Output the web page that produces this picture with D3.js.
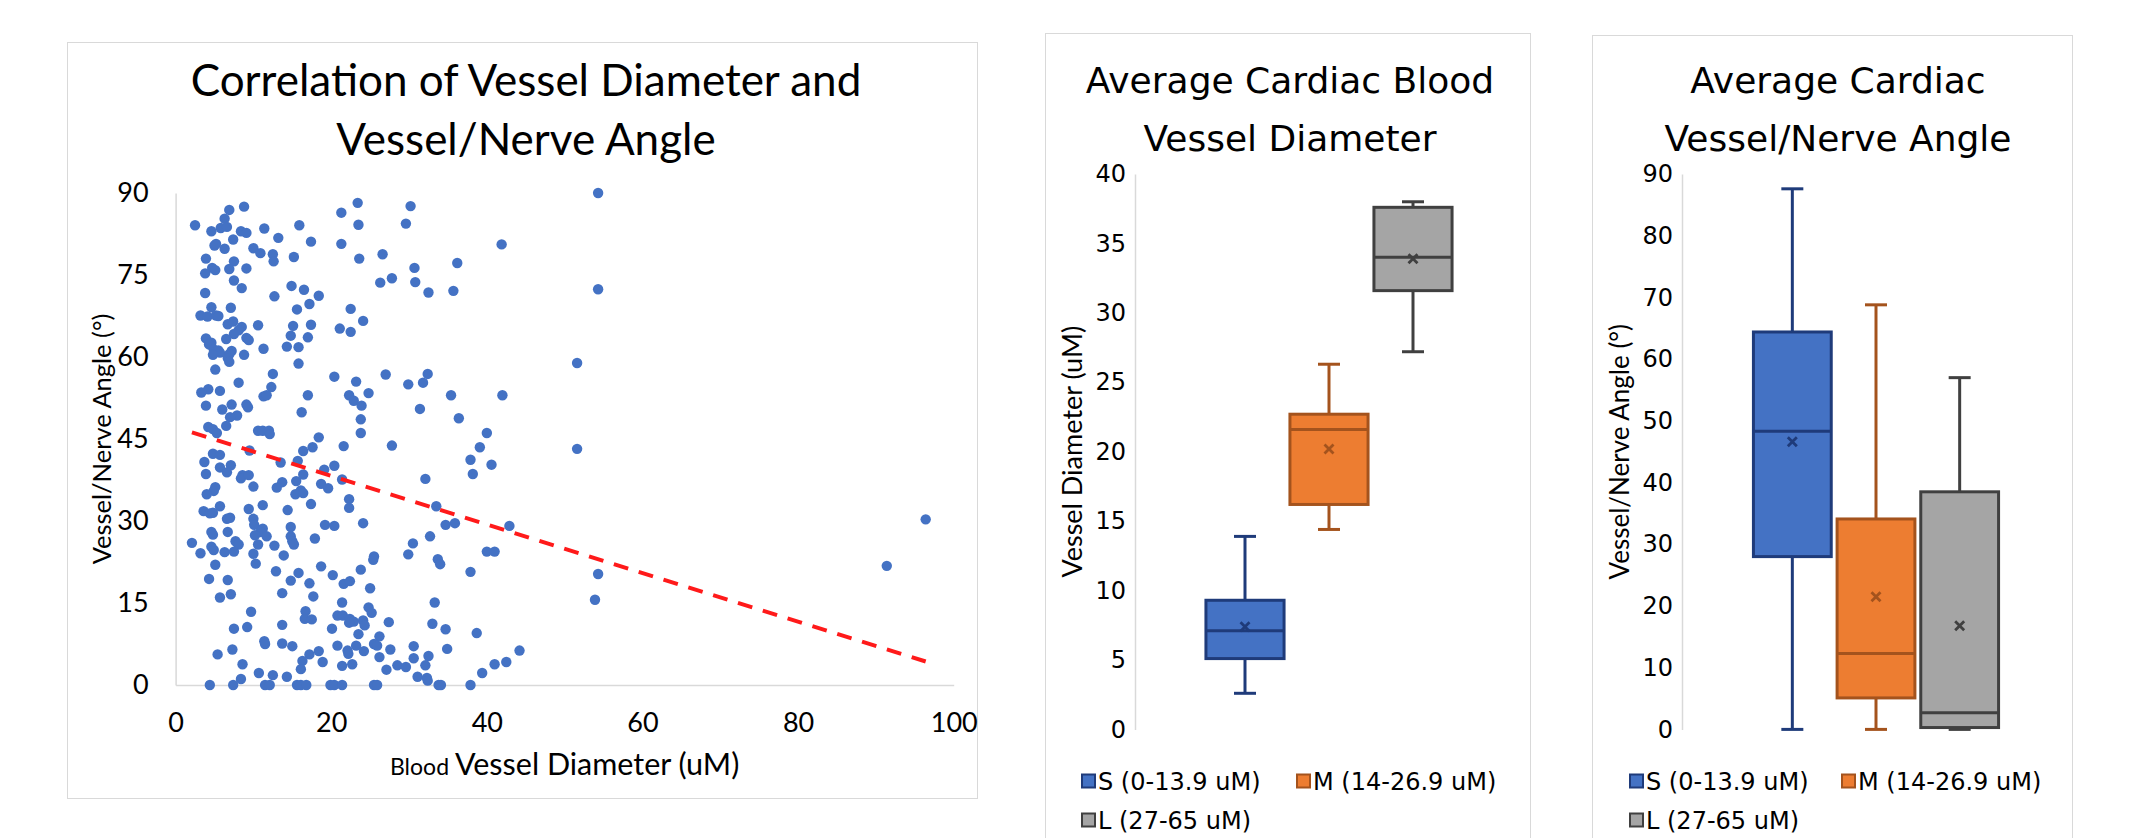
<!DOCTYPE html>
<html>
<head>
<meta charset="utf-8">
<script src="https://cdn.jsdelivr.net/npm/d3@7"></script>
<style>
  body { margin: 0; background: #fff; }
  svg { display: block; }
</style>
</head>
<body>
<svg id="chart" width="2129" height="838"></svg>
<script>
// scatter: [blood vessel diameter (uM), vessel/nerve angle (deg)]
var points = [
  [54.3,90.0],[23.4,88.2],[8.8,87.5],[30.2,87.6],[6.9,86.9],[21.3,86.4],[6.3,85.3],[29.6,84.4],[2.5,84.1],[15.9,84.1],
  [23.5,84.2],[5.8,83.6],[6.6,83.8],[4.6,83.0],[8.4,83.0],[9.1,82.7],[11.4,83.5],[13.2,81.8],[7.4,81.5],[17.4,81.1],
  [21.3,80.7],[5.0,80.4],[5.2,80.7],[41.9,80.6],[6.3,79.8],[10.0,79.9],[10.9,79.0],[12.5,78.8],[12.6,77.5],[26.6,78.8],
  [3.9,78.0],[15.2,78.3],[23.6,78.0],[7.5,77.5],[36.2,77.2],[4.7,76.3],[5.1,75.9],[3.8,75.3],[9.1,76.2],[6.9,76.1],
  [30.7,76.3],[7.5,74.0],[26.3,73.6],[27.8,74.4],[30.8,73.7],[8.5,72.6],[14.9,73.0],[54.3,72.4],[16.5,72.3],[32.5,71.8],
  [35.7,72.1],[3.8,71.7],[12.7,71.1],[18.4,71.2],[17.2,69.7],[4.6,69.1],[7.1,69.0],[15.6,68.7],[22.5,68.8],[3.2,67.6],
  [4.1,67.4],[5.2,67.6],[5.5,67.5],[24.1,66.6],[6.7,66.0],[7.4,66.5],[10.6,65.8],[15.1,65.7],[17.4,65.9],[8.5,65.5],
  [8.1,64.9],[21.1,65.2],[22.5,64.6],[7.5,64.2],[14.8,63.9],[17.0,63.6],[3.9,63.4],[4.6,62.6],[9.1,63.5],[9.4,63.1],
  [6.5,63.3],[4.3,62.3],[14.3,61.9],[15.8,61.8],[4.9,61.4],[5.5,61.2],[7.2,61.1],[5.7,60.8],[11.3,61.5],[4.8,60.4],
  [6.9,60.5],[8.8,60.4],[6.7,59.8],[6.9,59.1],[15.8,58.8],[51.6,58.9],[5.1,57.7],[12.5,56.9],[27.0,56.8],[32.4,56.9],
  [29.9,55.0],[31.8,55.3],[8.1,55.3],[20.4,56.4],[23.2,55.5],[4.2,54.1],[3.3,53.5],[5.7,53.8],[12.3,54.5],[17.0,53.0],
  [11.3,52.8],[11.7,53.0],[22.3,53.0],[22.9,52.0],[24.8,53.4],[35.4,53.0],[42.0,53.0],[3.9,51.1],[7.2,51.3],[9.1,51.3],
  [9.3,50.8],[23.9,51.1],[6.0,50.4],[16.2,49.9],[7.9,49.3],[7.0,49.0],[31.4,50.5],[23.8,48.6],[36.4,48.8],[6.5,47.4],
  [4.2,47.2],[4.8,46.8],[10.6,46.5],[11.2,46.5],[12.0,46.5],[12.1,45.9],[5.3,46.1],[23.8,46.1],[40.0,46.1],[18.4,45.3],
  [21.6,43.7],[27.8,43.8],[51.6,43.2],[39.1,43.5],[16.4,42.8],[17.6,43.5],[9.5,42.9],[4.8,42.3],[5.7,42.1],[3.7,40.8],
  [7.1,40.2],[13.5,40.7],[15.7,41.0],[37.9,41.2],[40.6,40.3],[20.4,40.1],[5.7,39.8],[6.6,38.9],[19.1,39.4],[38.2,38.6],
  [3.9,38.6],[8.6,38.4],[8.4,37.8],[9.4,38.4],[16.4,38.5],[21.4,37.6],[32.1,37.7],[13.7,37.1],[13.0,36.1],[15.5,37.3],
  [18.7,36.8],[19.6,36.0],[10.0,36.3],[5.1,36.2],[4.9,35.5],[16.1,35.6],[15.4,34.9],[16.4,35.1],[4.0,34.9],[22.3,34.0],
  [17.4,33.1],[11.2,32.9],[33.5,32.7],[5.7,32.7],[22.3,32.4],[3.6,31.8],[4.4,31.4],[4.8,31.5],[9.4,32.2],[14.4,32.0],
  [6.6,30.4],[7.0,30.6],[10.0,30.4],[35.9,29.6],[34.7,29.3],[42.9,29.1],[24.1,29.6],[19.2,29.3],[20.4,29.1],[96.4,30.3],
  [14.8,28.9],[10.1,29.3],[4.6,28.0],[4.8,27.5],[6.7,28.0],[11.2,28.6],[10.9,28.0],[10.2,27.4],[11.7,27.2],[14.8,27.2],
  [17.9,26.8],[32.7,27.2],[2.1,26.0],[7.7,26.3],[8.1,25.7],[15.0,26.3],[15.2,25.7],[12.7,25.5],[30.5,25.9],[10.6,25.7],
  [4.6,25.3],[4.9,24.7],[3.2,24.1],[6.3,24.3],[7.5,24.4],[10.0,24.0],[13.9,23.7],[25.5,23.5],[25.4,22.9],[29.9,23.9],
  [33.7,23.0],[34.0,22.1],[40.0,24.4],[41.0,24.4],[10.3,22.2],[5.1,22.0],[18.7,21.7],[91.4,21.8],[23.8,21.1],[37.9,20.7],
  [54.3,20.3],[12.9,20.8],[15.8,20.5],[20.2,20.1],[4.3,19.4],[6.7,19.2],[14.8,19.1],[17.2,18.6],[21.6,18.5],[22.4,19.0],
  [17.7,16.2],[25.0,17.7],[13.7,16.8],[5.7,16.0],[7.1,16.6],[53.9,15.6],[21.4,15.1],[33.3,15.1],[24.8,14.2],[25.2,13.2],
  [16.7,13.5],[9.7,13.4],[20.8,12.7],[21.5,12.7],[16.6,12.1],[17.5,12.0],[22.4,12.1],[22.9,11.6],[22.3,11.4],[24.1,11.8],
  [24.3,10.9],[27.4,11.5],[33.0,11.2],[13.7,11.0],[9.2,10.6],[7.5,10.3],[20.1,10.3],[34.7,10.2],[23.5,9.3],[26.2,8.9],
  [38.7,9.5],[11.4,8.0],[11.5,7.5],[13.7,7.6],[15.0,7.1],[20.8,7.2],[23.2,7.2],[25.5,7.5],[25.9,7.2],[30.6,7.1],
  [34.9,6.6],[7.3,6.5],[22.1,6.3],[22.2,5.7],[24.2,6.2],[27.6,6.5],[44.2,6.3],[5.4,5.6],[17.2,5.6],[18.4,6.2],
  [26.2,5.1],[30.6,4.9],[32.5,5.3],[16.3,4.4],[18.9,4.2],[8.6,3.8],[21.4,3.5],[22.7,3.8],[28.5,3.6],[29.6,3.3],
  [32.1,3.6],[41.0,3.8],[42.5,4.2],[27.1,2.8],[16.1,2.9],[10.7,2.2],[12.5,1.8],[14.3,1.5],[31.1,1.5],[32.3,1.3],
  [32.4,0.8],[39.4,2.2],[8.4,1.1],[4.4,0],[7.4,0],[11.5,0],[12.1,0],[15.6,0],[16.1,0],[16.8,0],
  [19.9,0],[20.4,0],[21.4,0],[25.5,0],[25.9,0],[33.8,0],[34.1,0],[37.9,0]
];
var trendX = [2.1, 96.4];
var trendY = [46.2, 4.3];
var scatterXTicks = [0, 20, 40, 60, 80, 100];
var scatterYTicks = [0, 15, 30, 45, 60, 75, 90];

// box plots
var groups = ["S (0-13.9 uM)", "M (14-26.9 uM)", "L (27-65 uM)"];
var diamMin    = [2.6, 14.4, 27.2];
var diamQ1     = [5.1, 16.2, 31.6];
var diamMedian = [7.1, 21.6, 34.0];
var diamQ3     = [9.3, 22.7, 37.6];
var diamMax    = [13.9, 26.3, 38.0];
var diamMean   = [7.4, 20.2, 33.9];
var diamTicks  = [0, 5, 10, 15, 20, 25, 30, 35, 40];

var angleMin    = [0, 0, 0];
var angleQ1     = [28.0, 5.1, 0.3];
var angleMedian = [48.3, 12.3, 2.7];
var angleQ3     = [64.4, 34.1, 38.5];
var angleMax    = [87.6, 68.8, 57.0];
var angleMean   = [46.6, 21.5, 16.8];
var angleTicks  = [0, 10, 20, 30, 40, 50, 60, 70, 80, 90];

var fills   = ["#4472c4", "#ed7d31", "#a5a5a5"];
var strokes = ["#1f3b7a", "#a4531d", "#404040"];

var svg = d3.select("#chart");
svg.append("rect").attr("width", 2129).attr("height", 838).attr("fill", "#fff");

function styleAxis(g, font, size) {
  g.select(".domain").attr("stroke", "#d9d9d9").attr("stroke-width", 1.5);
  g.selectAll(".tick line").remove();
  g.selectAll(".tick text").attr("font-family", font).attr("font-size", size).attr("fill", "#000");
}

// ---------- scatter chart ----------
var sc = svg.append("g");
sc.append("rect")
  .attr("x", 67.5).attr("y", 42.5).attr("width", 910).attr("height", 756)
  .attr("fill", "none").attr("stroke", "#d9d9d9");

var x = d3.scaleLinear().domain([0, 100]).range([175.6, 953.7]);
var y = d3.scaleLinear().domain([0, 90]).range([685, 193]);

sc.append("g")
  .attr("transform", "translate(0," + y(0) + ")")
  .call(d3.axisBottom(x).tickValues(scatterXTicks).tickSize(0).tickSizeOuter(0).tickPadding(28))
  .call(styleAxis, "Lato", 27);

sc.append("g")
  .attr("transform", "translate(" + x(0) + ",0)")
  .call(d3.axisLeft(y).tickValues(scatterYTicks).tickSize(0).tickSizeOuter(0).tickPadding(27))
  .call(styleAxis, "Lato", 27);

sc.selectAll(".dot")
  .data(points)
.enter().append("circle")
  .attr("class", "dot")
  .attr("cx", function(d) { return x(d[0]); })
  .attr("cy", function(d) { return y(d[1]); })
  .attr("r", 5.2)
  .attr("fill", "#4472c4");

var trend = d3.line()
  .x(function(d) { return x(d[0]); })
  .y(function(d) { return y(d[1]); });
sc.append("path")
  .datum(d3.zip(trendX, trendY))
  .attr("d", trend)
  .attr("fill", "none")
  .attr("stroke", "#ff1a1a")
  .attr("stroke-width", 4)
  .attr("stroke-dasharray", "15,11");

var scTitle = sc.append("text")
  .attr("text-anchor", "middle")
  .attr("font-family", "Lato").attr("font-size", 44).attr("fill", "#000");
scTitle.append("tspan").attr("x", 526).attr("y", 96).text("Correlation of Vessel Diameter and");
scTitle.append("tspan").attr("x", 526).attr("y", 155).text("Vessel/Nerve Angle");

sc.append("text")
  .attr("transform", "translate(111," + ((y(0) + y(90)) / 2) + ") rotate(-90)")
  .attr("text-anchor", "middle")
  .attr("font-family", "Lato").attr("font-size", 25.5)
  .text("Vessel/Nerve Angle (°)");

var xt = sc.append("text")
  .attr("x", (x(0) + x(100)) / 2).attr("y", 775)
  .attr("text-anchor", "middle")
  .attr("font-family", "Lato").attr("font-size", 30.5);
xt.append("tspan").attr("font-size", 23).text("Blood ");
xt.append("tspan").text("Vessel Diameter (uM)");

// ---------- box plot panels ----------
function boxPanel(cfg) {
  var g = svg.append("g");
  g.append("rect")
    .attr("x", cfg.frame[0] + 0.5).attr("y", cfg.frame[1] + 0.5)
    .attr("width", cfg.frame[2]).attr("height", 900)
    .attr("fill", "none").attr("stroke", "#d9d9d9");

  var t = g.append("text")
    .attr("text-anchor", "middle")
    .attr("font-family", "DejaVu Sans").attr("font-size", 36).attr("fill", "#000");
  t.append("tspan").attr("x", cfg.titleX).attr("y", 93).text(cfg.title[0]);
  t.append("tspan").attr("x", cfg.titleX).attr("y", 151).text(cfg.title[1]);

  var yy = d3.scaleLinear().domain(cfg.domain).range([729.4, 174]);
  var xx = d3.scaleBand().domain(groups).range(cfg.range).paddingInner(0.07).paddingOuter(0.035);

  g.append("g")
    .attr("transform", "translate(" + cfg.axisX + ",0)")
    .call(d3.axisLeft(yy).tickValues(cfg.ticks).tickSize(0).tickSizeOuter(0).tickPadding(9))
    .call(styleAxis, "DejaVu Sans", 24);

  g.append("text")
    .attr("transform", "translate(" + cfg.yTitleX + "," + ((yy(0) + yy(cfg.domain[1])) / 2) + ") rotate(-90)")
    .attr("text-anchor", "middle")
    .attr("font-family", "Lato").attr("font-size", cfg.yTitleSize)
    .text(cfg.yTitle);

  var s = cfg.stats;
  var box = g.selectAll(".box")
    .data(groups)
  .enter().append("g")
    .attr("class", "box");

  box.each(function(d, i) {
    var b = d3.select(this);
    var cx = xx(d) + xx.bandwidth() / 2;
    var col = strokes[i];
    // whiskers
    b.append("line").attr("x1", cx).attr("x2", cx).attr("y1", yy(s.max[i])).attr("y2", yy(s.q3[i]))
      .attr("stroke", col).attr("stroke-width", 3);
    b.append("line").attr("x1", cx).attr("x2", cx).attr("y1", yy(s.q1[i])).attr("y2", yy(s.min[i]))
      .attr("stroke", col).attr("stroke-width", 3);
    b.append("line").attr("x1", cx - 11).attr("x2", cx + 11).attr("y1", yy(s.max[i])).attr("y2", yy(s.max[i]))
      .attr("stroke", col).attr("stroke-width", 3);
    b.append("line").attr("x1", cx - 11).attr("x2", cx + 11).attr("y1", yy(s.min[i])).attr("y2", yy(s.min[i]))
      .attr("stroke", col).attr("stroke-width", 3);
    // box
    b.append("rect")
      .attr("x", xx(d)).attr("y", yy(s.q3[i]))
      .attr("width", xx.bandwidth()).attr("height", yy(s.q1[i]) - yy(s.q3[i]))
      .attr("fill", fills[i]).attr("stroke", col).attr("stroke-width", 3);
    b.append("line").attr("x1", xx(d)).attr("x2", xx(d) + xx.bandwidth())
      .attr("y1", yy(s.median[i])).attr("y2", yy(s.median[i]))
      .attr("stroke", col).attr("stroke-width", 3);
    // mean marker
    var my = yy(s.mean[i]);
    b.append("path")
      .attr("d", "M" + (cx - 4.5) + "," + (my - 4.5) + "L" + (cx + 4.5) + "," + (my + 4.5) +
                 "M" + (cx - 4.5) + "," + (my + 4.5) + "L" + (cx + 4.5) + "," + (my - 4.5))
      .attr("stroke", col).attr("stroke-width", 2.8);
  });

  // legend
  var lg = g.selectAll(".leg")
    .data(groups)
  .enter().append("g")
    .attr("class", "leg")
    .attr("transform", function(d, i) { return "translate(" + cfg.legend[i][0] + "," + cfg.legend[i][1] + ")"; });
  lg.append("rect")
    .attr("x", 0).attr("y", -6.5).attr("width", 13).attr("height", 13)
    .attr("fill", function(d, i) { return fills[i]; })
    .attr("stroke", function(d, i) { return strokes[i]; }).attr("stroke-width", 2);
  lg.append("text")
    .attr("x", 16).attr("y", 8.5)
    .attr("font-family", "DejaVu Sans").attr("font-size", 24)
    .text(function(d) { return d; });
}

boxPanel({
  frame: [1045, 33, 485],
  titleX: 1290,
  title: ["Average Cardiac Blood", "Vessel Diameter"],
  domain: [0, 40], ticks: diamTicks,
  axisX: 1135, range: [1203, 1455],
  yTitle: "Vessel Diameter (uM)", yTitleX: 1082, yTitleSize: 27,
  stats: { min: diamMin, q1: diamQ1, median: diamMedian, q3: diamQ3, max: diamMax, mean: diamMean },
  legend: [[1082, 781], [1297, 781], [1082, 820]]
});

boxPanel({
  frame: [1592, 35, 480],
  titleX: 1838,
  title: ["Average Cardiac", "Vessel/Nerve Angle"],
  domain: [0, 90], ticks: angleTicks,
  axisX: 1682, range: [1750.5, 2001.5],
  yTitle: "Vessel/Nerve Angle (°)", yTitleX: 1629, yTitleSize: 26,
  stats: { min: angleMin, q1: angleQ1, median: angleMedian, q3: angleQ3, max: angleMax, mean: angleMean },
  legend: [[1630, 781], [1842, 781], [1630, 820]]
});
</script>
</body>
</html>
